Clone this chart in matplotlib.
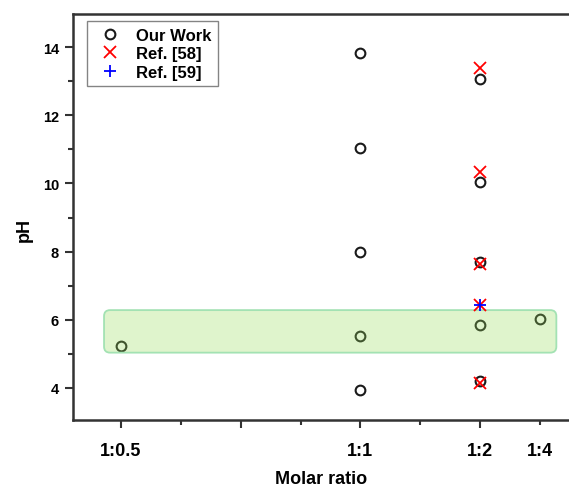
import matplotlib
matplotlib.use("Agg")
import matplotlib.pyplot as plt
from matplotlib.patches import FancyBboxPatch
from matplotlib.ticker import FixedLocator, NullFormatter
import numpy as np

plt.rcParams['font.family'] = ['Liberation Sans', 'DejaVu Sans']
plt.rcParams['font.weight'] = 'bold'

# Molar ratios (1:r) and measured pH values
our_ratio = [0.5, 1, 1, 1, 1, 1, 2, 2, 2, 2, 2, 4]
our_ph = [5.22, 13.83, 11.03, 7.98, 5.52, 3.93, 13.07, 10.03, 7.68, 5.83, 4.20, 6.03]

ref58_ratio = [2, 2, 2, 2, 2]
ref58_ph = [13.39, 10.33, 7.62, 6.42, 4.14]

ref59_ratio = [2]
ref59_ph = [6.42]

tick_ratios = [0.5, 1, 2, 4]
tick_labels = ['1:0.5', '1:1', '1:2', '1:4']

# Optimal pH window
band_ph = (5.03, 6.28)
band_ratio = (0.483, 5.5)


def pos(r):
    """Axis position for a 1:r molar ratio (linear in -1/r)."""
    return -1.0 / np.asarray(r, dtype=float)


fig = plt.figure(figsize=(5.69, 4.89), dpi=100)
ax = fig.add_axes([0.1283, 0.139, 0.8717, 0.8303])

xlim = (-2.2, -0.129)
ylim = (3.05, 14.98)
ax.set_xlim(*xlim)
ax.set_ylim(*ylim)

ax.plot(pos(our_ratio), our_ph, linestyle='none', marker='o', markersize=7,
        markerfacecolor='none', markeredgecolor='#1a1a1a', markeredgewidth=1.5,
        label='Our Work', zorder=3)
ax.plot(pos(ref58_ratio), ref58_ph, linestyle='none', marker='x', markersize=9,
        color='red', markeredgewidth=1.3, label='Ref. [58]', zorder=5)
ax.plot(pos(ref59_ratio), ref59_ph, linestyle='none', marker='+', markersize=9,
        color='blue', markeredgewidth=1.3, label='Ref. [59]', zorder=6)

# Rounded translucent band; aspect corrects the corner rounding for unequal scales
x0, x1 = pos(band_ratio[0]), pos(band_ratio[1])
bbox = ax.get_position()
fig_w, fig_h = fig.get_size_inches() * fig.dpi
px_x = bbox.width * fig_w / (xlim[1] - xlim[0])
px_y = bbox.height * fig_h / (ylim[1] - ylim[0])
band = FancyBboxPatch((x0, band_ph[0]), x1 - x0, band_ph[1] - band_ph[0],
                      boxstyle=f"round,pad=0,rounding_size={6 / px_x:.4f}",
                      mutation_aspect=px_x / px_y,
                      facecolor=(0.59, 0.86, 0.35, 0.30),
                      edgecolor='#a3e2b3', linewidth=1.3, zorder=4)
ax.add_patch(band)

# Ticks
major = [-2, -1.5, -1, -0.5]
minor = [-1.75, -1.25, -0.75, -0.25]
ax.xaxis.set_major_locator(FixedLocator(major))
ax.xaxis.set_minor_locator(FixedLocator(minor))
ax.set_xticklabels(['', '', '', ''])
ax.xaxis.set_minor_formatter(NullFormatter())
for r, lab in zip(tick_ratios, tick_labels):
    ax.annotate(lab, xy=(pos(r), 0), xycoords=('data', 'axes fraction'),
                xytext=(0, -16), textcoords='offset points',
                ha='center', va='top', fontsize=13, fontweight='bold')

ax.set_yticks([4, 6, 8, 10, 12, 14])
ax.yaxis.set_minor_locator(FixedLocator([5, 7, 9, 11, 13]))
ax.tick_params(axis='both', which='major', direction='out', length=6, width=1.5,
               color='#333333', labelsize=10.5, pad=4)
ax.tick_params(axis='both', which='minor', direction='out', length=3.5, width=1.5,
               color='#333333')
for lbl in ax.get_yticklabels():
    lbl.set_fontweight('bold')

for side in ('left', 'bottom', 'top'):
    ax.spines[side].set_linewidth(1.8)
    ax.spines[side].set_color('#333333')
ax.spines['right'].set_visible(False)

ax.set_ylabel('pH', fontsize=13, fontweight='bold')
ax.yaxis.set_label_coords(-0.081, 0.47)
ax.set_xlabel('Molar ratio', fontsize=13, fontweight='bold')
ax.xaxis.set_label_coords(0.5, -0.123)

leg = ax.legend(loc='upper left', bbox_to_anchor=(0.0276, 0.982), fontsize=12,
                frameon=True, fancybox=False, edgecolor='#666666',
                handlelength=2.0, handletextpad=0.55, borderpad=0.4,
                labelspacing=0.2, borderaxespad=0)
leg.get_frame().set_linewidth(1.0)
for t in leg.get_texts():
    t.set_fontweight('bold')

fig.savefig('out.png', dpi=100)
